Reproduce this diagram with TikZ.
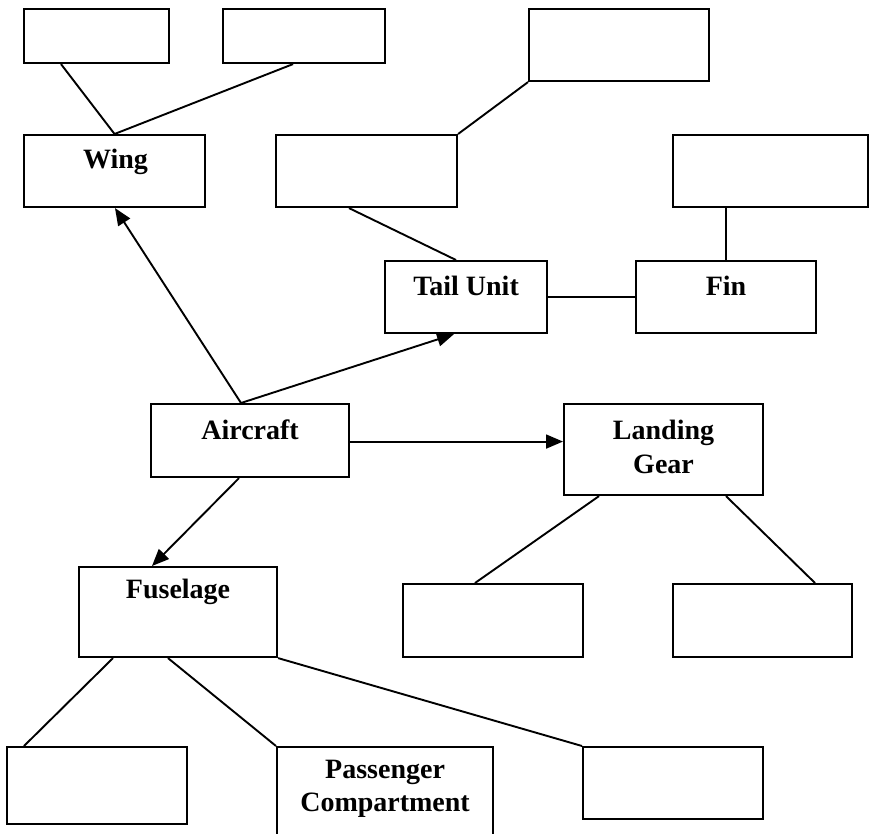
\documentclass[tikz,border=0pt]{standalone}
\usepackage{fontspec}
\setmainfont{Liberation Serif}
\usetikzlibrary{arrows.meta,calc}
\begin{document}
\begin{tikzpicture}[x=1pt,y=-1pt,
  box/.style={draw, line width=2.1pt, inner sep=0pt, anchor=north west},
  lbl/.style={font=\bfseries\fontsize{28}{33.5}\selectfont, align=center, inner sep=0pt},
  conn/.style={line width=1.9pt},
  arr/.style={conn, -{Triangle[length=17pt,width=14pt]}}]
\useasboundingbox (0,0) rectangle (869,834);
\clip (0,0) rectangle (869,834);
\fill[white] (0,0) rectangle (869,834);
% boxes
\node[box, minimum width=145pt, minimum height=54pt] (A1) at (23,8) {};
\node[box, minimum width=162pt, minimum height=54pt] (A2) at (222,8) {};
\node[box, minimum width=180pt, minimum height=72pt] (B1) at (528,8) {};
\node[box, minimum width=181pt, minimum height=72pt] (Wing) at (23,134) {};
\node[box, minimum width=181pt, minimum height=72pt] (T1) at (275,134) {};
\node[box, minimum width=195pt, minimum height=72pt] (F1) at (672,134) {};
\node[box, minimum width=162pt, minimum height=72pt] (TU) at (384,260) {};
\node[box, minimum width=180pt, minimum height=72pt] (Fin) at (635,260) {};
\node[box, minimum width=198pt, minimum height=73pt] (AC) at (150,403) {};
\node[box, minimum width=199pt, minimum height=91pt] (LG) at (563,403) {};
\node[box, minimum width=198pt, minimum height=90pt] (Fus) at (78,566) {};
\node[box, minimum width=180pt, minimum height=73pt] (LGL) at (402,583) {};
\node[box, minimum width=179pt, minimum height=73pt] (LGR) at (672,583) {};
\node[box, minimum width=180pt, minimum height=77pt] (BL) at (6,746) {};
\node[box, minimum width=216pt, minimum height=110pt] (PC) at (276,746) {};
\node[box, minimum width=180pt, minimum height=72pt] (BR) at (582,746) {};
% labels
\node[lbl] (tWing) at ($(Wing.north)+(1,28)$) {Wing};
\node[lbl] (tTU) at ($(TU.north)+(0,26)$) {Tail Unit};
\node[lbl] (tFin) at ($(Fin.north)+(0,26)$) {Fin};
\node[lbl] (tAC) at ($(AC.north)+(0,27)$) {Aircraft};
\node[lbl] (tLG) at ($(LG.north)+(0,44)$) {Landing\\Gear};
\node[lbl] (tPC) at ($(PC.north)+(0,43)$) {Passenger\\Compartment};
\node[lbl] (tFus) at ($(Fus.north)+(0,26)$) {Fuselage};
% connectors
\draw[conn] ([xshift=38pt]A1.south west) -- (Wing.north);
\draw[conn] ([xshift=71pt]A2.south west) -- (Wing.north);
\draw[conn] (B1.south west) -- (T1.north east);
\draw[conn] ([xshift=74pt]T1.south west) -- ([xshift=72pt]TU.north west);
\draw[conn] (Fin.north) -- (Fin.north |- F1.south);
\draw[conn] (TU.east) -- (Fin.west);
\coordinate (acTop) at ([xshift=91pt]AC.north west);
\draw[arr] (acTop) -- ([xshift=92pt]Wing.south west);
\draw[arr] (acTop) -- ([xshift=70pt]TU.south west);
\draw[arr] ([yshift=-1pt]AC.east) -- ([yshift=-1pt]AC.east -| LG.west);
\draw[arr] ([xshift=89pt]AC.south west) -- ([xshift=74pt]Fus.north west);
\draw[conn] ([xshift=36pt]LG.south west) -- ([xshift=73pt]LGL.north west);
\draw[conn] ([xshift=163pt]LG.south west) -- ([xshift=143pt]LGR.north west);
\draw[conn] ([xshift=35pt]Fus.south west) -- ([xshift=18pt]BL.north west);
\draw[conn] ([xshift=90pt]Fus.south west) -- (PC.north west);
\draw[conn] (Fus.south east) -- (BR.north west);
\end{tikzpicture}
\end{document}
